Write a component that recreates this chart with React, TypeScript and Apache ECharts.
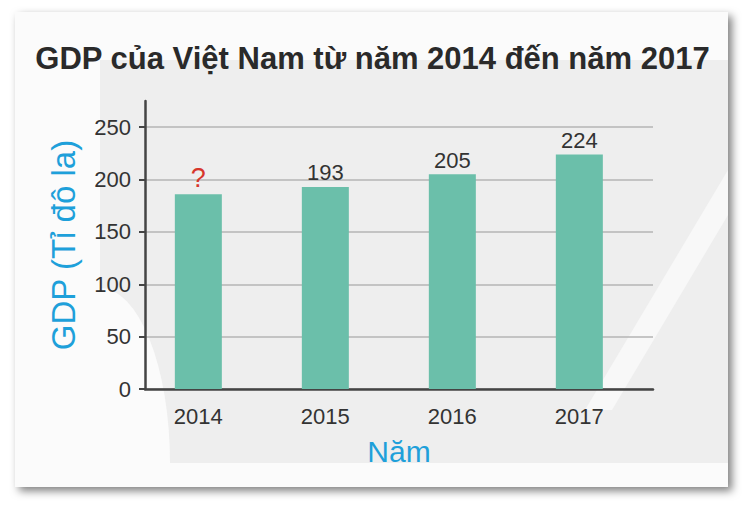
import { useEffect, useRef } from "react";
import * as echarts from "echarts";

const years = [2014, 2015, 2016, 2017];
const gdp = [186, 193, 205, 224];
const valueLabels = ["?", "193", "205", "224"];
const yTicks = [0, 50, 100, 150, 200, 250];
const titleText = "GDP của Việt Nam từ năm 2014 đến năm 2017";
const yName = "GDP (Tỉ đô la)";
const xName = "Năm";

const FONT = "'Liberation Sans', Arial, Helvetica, sans-serif";
const BLUE = "#1ea0da";
const DARK = "#333333";
const RED = "#d7362b";
const BAR = "#6bbfaa";

export default function App() {
  const ref = useRef<HTMLDivElement>(null);
  useEffect(() => {
    document.body.style.margin = "0";
    const chart = echarts.init(ref.current!, null, { renderer: "svg" });
    chart.setOption({
      animation: false,
      backgroundColor: "#ffffff",
      textStyle: { fontFamily: FONT },
      title: {
        text: titleText,
        left: "center",
        top: 38,
        textStyle: { fontSize: 31, fontWeight: "bold", color: "#2a2a2a", fontFamily: FONT },
      },
      graphic: [
        {
          type: "rect",
          z: -100,
          shape: { x: 15, y: 12, width: 713, height: 475 },
          style: {
            fill: "#fbfbfb",
            shadowBlur: 8,
            shadowOffsetX: 4,
            shadowOffsetY: 4,
            shadowColor: "rgba(0,0,0,0.5)",
          },
        },
        {
          type: "rect",
          z: -99,
          shape: { x: 100, y: 60, width: 628, height: 403 },
          style: { fill: "#eeeeee" },
        },
        {
          type: "sector",
          z: -98,
          x: 100,
          y: 463,
          scaleX: 0.4,
          shape: { cx: 0, cy: 0, r0: 0, r: 175, startAngle: -Math.PI / 2, endAngle: 0 },
          style: { fill: "#fbfbfb" },
        },
        {
          type: "polygon",
          z: -98,
          shape: { points: [[728, 170], [728, 215], [612, 410], [585, 410]] },
          style: { fill: "#f8f8f8" },
        },
      ],
      grid: { left: 145, right: 92, top: 101, bottom: 116 },
      xAxis: {
        type: "value",
        min: years[0] - 0.42,
        max: years[years.length - 1] + 0.58,
        name: xName,
        nameLocation: "middle",
        nameGap: 47,
        nameTextStyle: { fontSize: 30, color: BLUE, fontFamily: FONT },
        axisLine: { show: true, onZero: false, lineStyle: { color: "#444444", width: 2.5 } },
        axisTick: { show: false },
        splitLine: { show: false },
        axisLabel: {
          customValues: years,
          formatter: (v: number) => String(v),
          fontSize: 22,
          color: DARK,
          margin: 16,
        },
      },
      yAxis: {
        type: "value",
        min: 0,
        max: 275,
        interval: 50,
        name: yName,
        nameLocation: "middle",
        nameGap: 65,
        nameTextStyle: { fontSize: 33, color: BLUE, fontFamily: FONT },
        axisLine: { show: true, onZero: false, lineStyle: { color: "#444444", width: 2.5 } },
        axisTick: {
          show: true,
          length: 6,
          customValues: yTicks,
          lineStyle: { color: "#444444", width: 2 },
        },
        axisLabel: {
          customValues: yTicks,
          fontSize: 22,
          color: DARK,
          margin: 14,
        },
        splitLine: { show: true, lineStyle: { color: "#b4b4b4", width: 1.5 } },
      },
      series: [
        {
          type: "bar",
          barWidth: 47,
          itemStyle: { color: BAR },
          data: years.map((y, i) => ({
            value: [y, gdp[i]],
            label: {
              color: valueLabels[i] === "?" ? RED : DARK,
              fontSize: valueLabels[i] === "?" ? 27 : 22,
            },
          })),
          label: {
            show: true,
            position: "top",
            distance: 3,
            fontFamily: FONT,
            formatter: (p: any) => valueLabels[p.dataIndex],
          },
        },
      ],
    });
    return () => chart.dispose();
  }, []);
  return (
    <div
      ref={ref}
      style={{ position: "absolute", left: 0, top: 0, width: 745, height: 505 }}
    />
  );
}
